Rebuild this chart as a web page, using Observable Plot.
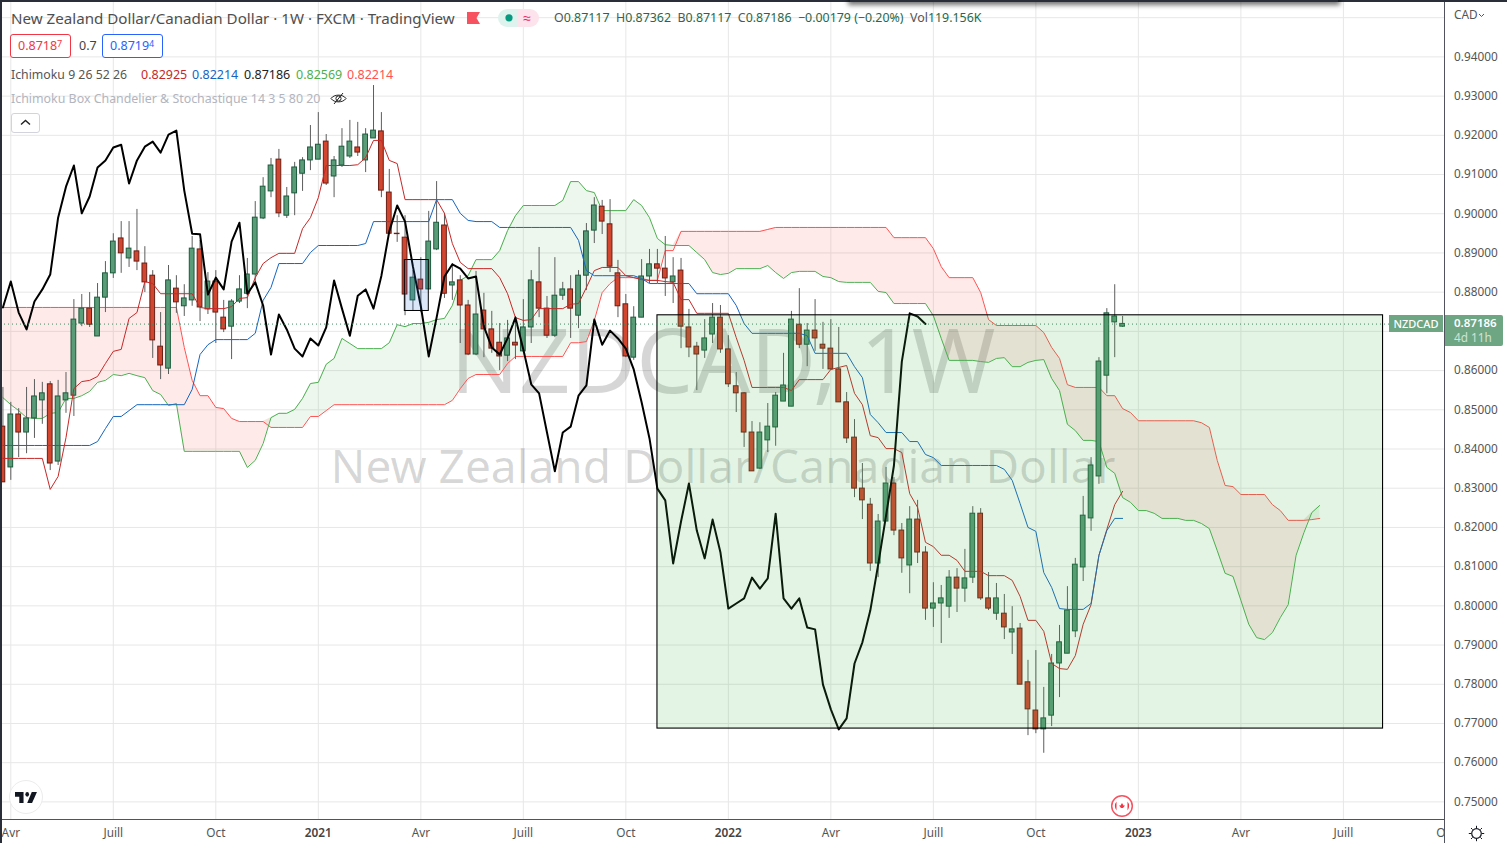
<!DOCTYPE html>
<html lang="fr">
<head>
<meta charset="utf-8">
<title>NZDCAD 1W</title>
<style>
html,body{margin:0;padding:0;width:1507px;height:843px;overflow:hidden;background:#fff;font-family:"Noto Sans",sans-serif}
#chart{position:absolute;left:0;top:0}
.t{position:absolute;white-space:nowrap;line-height:1}
.box{position:absolute;box-sizing:border-box;background:#fff;border-radius:3px}
sup{font-size:.72em;line-height:0;vertical-align:.35em}
</style>
<script src="https://cdn.jsdelivr.net/npm/d3@7"></script>
<script src="https://cdn.jsdelivr.net/npm/@observablehq/plot@0.6"></script>
</head>
<body>
<div id="chart"></div>
<div class="t" style="left:11px;top:11px;font-size:15.15px;color:#4f4f4f" id="title">New Zealand Dollar/Canadian Dollar · 1W · FXCM · TradingView</div>
<svg style="position:absolute;left:467px;top:12px" width="13" height="12"><path d="M0 0H13L9.5 6L13 12H0Z" fill="#f7525f"/></svg>
<svg style="position:absolute;left:498px;top:9px" width="41" height="18"><path d="M9 0H20V18H9A9 9 0 0 1 9 0Z" fill="#dff3ee"/><path d="M20 0H32A9 9 0 0 1 32 18H20Z" fill="#fce3ec"/><circle cx="11" cy="8.8" r="3.6" fill="#089981"/><text x="29" y="14" text-anchor="middle" font-size="14" fill="#e91e63">≈</text></svg>
<div class="t" style="left:554px;top:12px;font-size:12.4px;color:#555" id="ohlc">O<span>0.87117</span>&nbsp; H<span>0.87362</span>&nbsp; B<span>0.87117</span>&nbsp; C<span>0.87186</span>&nbsp; <span>−0.00179 (−0.20%)</span>&nbsp; Vol<span>119.156K</span></div>
<div class="box" style="left:10px;top:34px;width:61px;height:24px;border:1px solid #f23645"></div>
<div class="t" style="left:18px;top:40px;font-size:12.5px;color:#f23645">0.8718<sup>7</sup></div>
<div class="t" style="left:79px;top:40px;font-size:12.5px;color:#444">0.7</div>
<div class="box" style="left:102px;top:34px;width:61px;height:24px;border:1px solid #2962ff"></div>
<div class="t" style="left:110px;top:40px;font-size:12.5px;color:#2962ff">0.8719<sup>4</sup></div>
<div class="t" style="left:11px;top:69px;font-size:12.3px;color:#555">Ichimoku 9 26 52 26</div>
<div class="t" style="left:141px;top:69px;font-size:12.5px;color:#c62828">0.82925</div>
<div class="t" style="left:192px;top:69px;font-size:12.5px;color:#1565c0">0.82214</div>
<div class="t" style="left:244px;top:69px;font-size:12.5px;color:#222">0.87186</div>
<div class="t" style="left:296px;top:69px;font-size:12.5px;color:#4caf50">0.82569</div>
<div class="t" style="left:347px;top:69px;font-size:12.5px;color:#ff5252">0.82214</div>
<div class="t" style="left:11px;top:93px;font-size:12.4px;color:#b2b5be">Ichimoku Box Chandelier &amp; Stochastique 14 3 5 80 20</div>
<svg style="position:absolute;left:330px;top:90px" width="17" height="17"><path d="M1 8.5C4 4 13 4 16 8.5C13 13 4 13 1 8.5Z" fill="none" stroke="#222"/><circle cx="8.5" cy="8.5" r="2.6" fill="none" stroke="#222"/><path d="M13 3L4 14" stroke="#222"/></svg>
<div class="box" style="left:11px;top:113px;width:29px;height:20px;border:1px solid #d1d4dc"></div>
<svg style="position:absolute;left:20px;top:119px" width="11" height="7"><path d="M1 5.5L5.5 1.5L10 5.5" fill="none" stroke="#222" stroke-width="1.4"/></svg>
<svg style="position:absolute;left:8px;top:779px" width="36" height="36"><circle cx="18" cy="18" r="16.5" fill="#fff" stroke="#ececec"/><g transform="translate(7,8.3) scale(.61,.78)"><path d="M14 6H0v6h7v8h7V6z" fill="#131722"/><circle cx="20" cy="9" r="3" fill="#131722"/><path d="M28 20h-8l7.5-14H36L28 20z" fill="#131722"/></g></svg>
<svg style="position:absolute;left:1110px;top:794px" width="24" height="24"><circle cx="12" cy="12" r="10.3" fill="#fff" stroke="#f7525f" stroke-width="1.5"/><path d="M6.5 7.5A7 7 0 0 0 6.5 16.5ZM17.5 7.5A7 7 0 0 1 17.5 16.5Z" fill="#f23645"/><path d="M12 9L13.5 11.5L15 11.5L13 14H11L9 11.5L10.5 11.5Z" fill="#f23645"/></svg>
<div class="t" style="left:1389px;top:315px;width:54px;height:17px;background:#6ea583;color:#fff;font-size:11px;font-weight:500;text-align:center;line-height:17px">NZDCAD</div>
<div class="t" style="left:1445px;top:315px;width:58px;height:31px;background:#6ea583;border-radius:0 2px 2px 0"></div>
<div class="t" style="left:1454px;top:317px;font-size:11.5px;font-weight:600;color:#fff">0.87186</div>
<div class="t" style="left:1454px;top:332px;font-size:11.8px;color:#cfe3d6">4d 11h</div>
<div class="t" style="left:1454px;top:9px;font-size:11.8px;color:#555">CAD</div>
<svg style="position:absolute;left:1478px;top:13px" width="7" height="5"><path d="M1 1L3.5 3.5L6 1" fill="none" stroke="#555"/></svg>
<svg style="position:absolute;left:1468px;top:825px" width="17" height="17"><circle cx="8.5" cy="8.5" r="4.8" fill="none" stroke="#131722" stroke-width="1.2"/><path d="M8.5 .8V3M8.5 14V16.2M.8 8.5H3M14 8.5H16.2M3 3L4.6 4.6M12.4 12.4L14 14M14 3L12.4 4.6M4.6 12.4L3 14" stroke="#131722"/></svg>
<div style="position:absolute;left:0;top:0;width:1507px;height:2px;background:#2a2e39"></div>
<div style="position:absolute;left:0;top:0;width:1.5px;height:843px;background:#2a2e39"></div>
<div style="position:absolute;left:850px;top:-6px;width:488px;height:8px;background:#2a2e39;box-shadow:0 1px 5px 2px rgba(0,0,0,.55)"></div>
<script>
const weekStart = -1;
const priceTicks = [0.94,0.93,0.92,0.91,0.90,0.89,0.88,0.86,0.85,0.84,0.83,0.82,0.81,0.80,0.79,0.78,0.77,0.76,0.75];
const gridPrices = [0.95,0.94,0.93,0.92,0.91,0.90,0.89,0.88,0.87,0.86,0.85,0.84,0.83,0.82,0.81,0.80,0.79,0.78,0.77,0.76,0.75];
const monthWeeks = [0,13,26,52,65,78,104,117,130,156,169,182];
const monthLabels = ["Avr","Juill","Oct","Avr","Juill","Oct","Avr","Juill","Oct","Avr","Juill","Oct"];
const yearWeeks = [39,91,143];
const yearLabels = ["2021","2022","2023"];

const opens = [
.8457,.8353,.8488,.8442,.8478,.8524,.8565,.8368,.8524,.8536,
.8720,.8758,.8687,.8786,.8848,.8937,.8886,.8904,.8873,.8842,
.8661,.8605,.8809,.8764,.8779,.8909,.8756,.8827,.8735,.8712,
.8776,.8796,.8845,.8988,.9057,.9138,.8995,.9052,.9102,.9136,
.9138,.9184,.9095,.9123,.9146,.9169,.9136,.9192,.9210,.9054,
.8949,.8939,.8779,.8832,.8807,.8909,.8970,.8817,.8830,.8766,
.8641,.8753,.8705,.8671,.8638,.8671,.8649,.8710,.8825,.8758,
.8689,.8791,.8807,.8740,.8842,.8957,.9018,.8973,.8848,.8769,
.8633,.8735,.8840,.8871,.8860,.8825,.8855,.8710,.8661,.8651,
.8692,.8735,.8654,.8560,.8542,.8442,.8350,.8422,.8455,.8521,
.8508,.8717,.8666,.8702,.8666,.8656,.8603,.8519,.8429,.8299,
.8258,.8108,.8215,.8312,.8192,.8103,.8220,.8136,.7993,.8006,
.7998,.8072,.8044,.8072,.8235,.8019,.7980,.7980,.7932,.7942,
.7805,.7733,.7685,.7720,.7853,.7878,.7935,.8098,.8223,.8330,
.8587,.8723,.8712];
const highs = [
.8557,.8519,.8503,.8557,.8577,.8570,.8572,.8575,.8595,.8781,
.8794,.8799,.8822,.8878,.8949,.8980,.8980,.9011,.8916,.8855,
.8748,.8868,.8842,.8819,.8942,.8932,.8850,.8855,.8779,.8781,
.8842,.8886,.9031,.9092,.9141,.9164,.9067,.9131,.9143,.9225,
.9258,.9202,.9146,.9217,.9238,.9233,.9217,.9327,.9258,.9113,
.8995,.8995,.8855,.8888,.9006,.9082,.9001,.8873,.8842,.8779,
.8853,.8797,.8751,.8720,.8728,.8738,.8781,.8855,.8914,.8789,
.8888,.8825,.8842,.8855,.8975,.9041,.9034,.9036,.8881,.8794,
.8763,.8883,.8909,.8909,.8942,.8888,.8886,.8756,.8672,.8730,
.8771,.8766,.8689,.8595,.8544,.8470,.8467,.8516,.8544,.8644,
.8751,.8809,.8720,.8781,.8723,.8730,.8710,.8544,.8475,.8363,
.8274,.8233,.8353,.8327,.8210,.8253,.8269,.8151,.8059,.8052,
.8090,.8095,.8144,.8253,.8248,.8085,.8057,.8029,.7998,.7955,
.7861,.7886,.7792,.7876,.7950,.8049,.8121,.8279,.8378,.8633,
.8758,.8819,.8738];
const lows = [
.8315,.8320,.8378,.8388,.8427,.8463,.8345,.8358,.8491,.8483,
.8712,.8710,.8687,.8748,.8835,.8848,.8863,.8855,.8799,.8631,
.8577,.8590,.8746,.8738,.8764,.8725,.8743,.8669,.8697,.8628,
.8771,.8758,.8817,.8985,.9041,.8990,.8988,.8995,.9057,.9110,
.9138,.9072,.9041,.9118,.9141,.9146,.9105,.9192,.9041,.8949,
.8927,.8740,.8751,.8748,.8807,.8906,.8784,.8779,.8669,.8638,
.8638,.8633,.8644,.8600,.8623,.8628,.8646,.8669,.8735,.8682,
.8684,.8779,.8682,.8707,.8804,.8924,.8947,.8850,.8735,.8633,
.8626,.8735,.8822,.8822,.8789,.8771,.8656,.8633,.8549,.8631,
.8669,.8644,.8557,.8493,.8404,.8343,.8348,.8391,.8407,.8521,
.8508,.8656,.8610,.8649,.8603,.8600,.8519,.8414,.8276,.8220,
.8088,.8072,.8215,.8179,.8083,.8031,.8108,.7963,.7945,.7904,
.7968,.7983,.8009,.8057,.8014,.7988,.7963,.7914,.7876,.7799,
.7669,.7674,.7624,.7692,.7766,.7878,.7919,.8062,.8190,.8310,
.8541,.8633,.8710];
const closes = [
.8315,.8488,.8442,.8478,.8534,.8542,.8363,.8534,.8542,.8730,
.8758,.8717,.8786,.8848,.8929,.8899,.8911,.8878,.8825,.8677,
.8613,.8830,.8774,.8784,.8911,.8761,.8827,.8748,.8705,.8776,
.8807,.8845,.8990,.9069,.9123,.9001,.9044,.9118,.9136,.9169,
.9176,.9077,.9136,.9171,.9184,.9156,.9202,.9212,.9059,.8949,
.8948,.8794,.8837,.8807,.8929,.8977,.8796,.8825,.8766,.8641,
.8743,.8705,.8656,.8636,.8682,.8664,.8710,.8830,.8758,.8689,
.8791,.8807,.8758,.8842,.8955,.9021,.8980,.8865,.8764,.8636,
.8735,.8840,.8871,.8860,.8835,.8840,.8712,.8659,.8641,.8682,
.8735,.8654,.8565,.8542,.8442,.8343,.8442,.8457,.8536,.8562,
.8730,.8666,.8702,.8682,.8656,.8603,.8519,.8427,.8299,.8269,
.8108,.8215,.8312,.8192,.8121,.8220,.8136,.7993,.8006,.8019,
.8072,.8044,.8070,.8235,.8019,.7993,.8019,.7945,.7940,.7799,
.7736,.7685,.7713,.7853,.7907,.7988,.8105,.8230,.8358,.8623,
.8746,.8738,.8719];
const tenkan = [
.8376,.8376,.8376,.8376,.8376,.8376,.8297,.8330,.8429,.8554,
.8572,.8575,.8585,.8618,.8649,.8654,.8733,.8748,.8827,.8822,
.8796,.8796,.8796,.8796,.8796,.8761,.8758,.8758,.8758,.8763,
.8784,.8786,.8837,.8873,.8888,.8899,.8899,.8899,.8962,.8990,
.9041,.9123,.9123,.9123,.9123,.9125,.9143,.9187,.9187,.9136,
.9128,.9036,.9036,.9036,.9036,.9036,.9001,.8924,.8876,.8860,
.8860,.8860,.8860,.8837,.8796,.8735,.8728,.8730,.8758,.8758,
.8758,.8758,.8769,.8771,.8812,.8855,.8863,.8863,.8863,.8842,
.8837,.8832,.8830,.8830,.8827,.8825,.8781,.8781,.8746,.8746,
.8746,.8746,.8746,.8684,.8626,.8557,.8557,.8557,.8557,.8557,
.8549,.8577,.8577,.8577,.8577,.8603,.8608,.8613,.8542,.8513,
.8434,.8429,.8401,.8401,.8391,.8286,.8251,.8162,.8151,.8129,
.8129,.8116,.8088,.8088,.8088,.8077,.8077,.8077,.8065,.8024,
.7963,.7963,.7935,.7853,.7840,.7838,.7873,.7953,.8003,.8129,
.8195,.8258,.8292];
const kijun = [
.8409,.8409,.8409,.8409,.8409,.8409,.8409,.8409,.8409,.8409,
.8409,.8409,.8419,.8452,.8483,.8483,.8498,.8513,.8513,.8513,
.8513,.8513,.8513,.8513,.8552,.8641,.8666,.8679,.8679,.8679,
.8679,.8679,.8695,.8779,.8812,.8873,.8873,.8873,.8873,.8901,
.8919,.8919,.8919,.8919,.8919,.8919,.8924,.8980,.8980,.8980,
.8980,.8980,.8980,.8980,.8980,.9036,.9036,.9036,.9001,.8983,
.8980,.8980,.8980,.8965,.8965,.8965,.8965,.8965,.8965,.8965,
.8965,.8965,.8965,.8932,.8855,.8842,.8842,.8842,.8842,.8842,
.8842,.8835,.8822,.8822,.8822,.8822,.8822,.8822,.8796,.8796,
.8796,.8796,.8796,.8766,.8720,.8695,.8695,.8695,.8695,.8695,
.8695,.8695,.8689,.8644,.8644,.8644,.8644,.8644,.8610,.8582,
.8488,.8467,.8442,.8442,.8442,.8419,.8419,.8386,.8378,.8358,
.8358,.8358,.8358,.8358,.8358,.8358,.8358,.8348,.8320,.8261,
.8200,.8190,.8085,.8047,.7993,.7991,.7991,.7991,.8006,.8129,
.8192,.8223,.8223];
const spanA = [
.8531,.8513,.8498,.8480,.8478,.8478,.8491,.8493,.8529,.8529,
.8536,.8547,.8570,.8575,.8590,.8587,.8593,.8587,.8582,.8549,
.8539,.8511,.8516,.8394,.8394,.8394,.8394,.8394,.8394,.8394,
.8394,.8353,.8371,.8414,.8480,.8491,.8491,.8501,.8529,.8567,
.8570,.8616,.8631,.8682,.8669,.8656,.8656,.8656,.8656,.8671,
.8717,.8712,.8720,.8720,.8723,.8730,.8733,.8766,.8830,.8842,
.8883,.8883,.8883,.8906,.8957,.8995,.9021,.9021,.9021,.9021,
.9021,.9034,.9082,.9082,.9059,.9054,.9008,.9008,.9008,.9008,
.9036,.9021,.8990,.8937,.8921,.8919,.8919,.8919,.8901,.8883,
.8850,.8845,.8848,.8860,.8860,.8860,.8860,.8868,.8850,.8835,
.8850,.8853,.8853,.8853,.8840,.8837,.8827,.8825,.8825,.8825,
.8825,.8802,.8799,.8771,.8771,.8771,.8771,.8771,.8740,.8682,
.8626,.8626,.8626,.8626,.8623,.8621,.8631,.8633,.8610,.8610,
.8621,.8626,.8628,.8580,.8549,.8463,.8447,.8422,.8422,.8419,
.8353,.8338,.8276,.8264,.8243,.8243,.8236,.8223,.8223,.8223,
.8218,.8218,.8210,.8197,.8141,.8083,.8075,.8014,.7953,.7919,
.7914,.7932,.7970,.8003,.8129,.8187,.8238,.8256];
const spanB = [
.8761,.8761,.8761,.8761,.8761,.8761,.8761,.8761,.8761,.8761,
.8761,.8761,.8761,.8761,.8761,.8761,.8761,.8761,.8761,.8761,
.8761,.8761,.8761,.8659,.8575,.8536,.8536,.8506,.8503,.8478,
.8470,.8470,.8470,.8470,.8455,.8455,.8455,.8455,.8455,.8483,
.8483,.8498,.8513,.8513,.8513,.8513,.8513,.8513,.8513,.8513,
.8513,.8513,.8513,.8513,.8513,.8513,.8513,.8524,.8554,.8580,
.8590,.8590,.8590,.8590,.8618,.8636,.8636,.8636,.8636,.8636,
.8636,.8636,.8671,.8671,.8674,.8728,.8799,.8822,.8837,.8837,
.8837,.8835,.8830,.8830,.8906,.8906,.8955,.8955,.8955,.8955,
.8955,.8955,.8955,.8955,.8955,.8955,.8955,.8960,.8965,.8965,
.8965,.8965,.8965,.8965,.8965,.8965,.8965,.8965,.8965,.8965,
.8965,.8965,.8965,.8939,.8939,.8939,.8939,.8939,.8911,.8865,
.8837,.8837,.8837,.8837,.8799,.8730,.8715,.8715,.8715,.8715,
.8715,.8715,.8697,.8659,.8631,.8564,.8557,.8557,.8557,.8557,
.8536,.8536,.8503,.8493,.8472,.8472,.8472,.8472,.8472,.8472,
.8472,.8472,.8467,.8455,.8371,.8307,.8304,.8284,.8284,.8284,
.8284,.8258,.8243,.8218,.8218,.8218,.8220,.8223];
const lastPrice = 0.87186;
const boxWeeks = [82.01,174.03];
const boxPrices = [0.8741,0.7687];
const smallBoxWeeks = [49.97,53.01];
const smallBoxPrices = [0.8882,0.8752];
const watermark = ["NZDCAD, 1W","New Zealand Dollar/Canadian Dollar"];

const candles = opens.map((o,i)=>({week:i+weekStart,o,h:highs[i],l:lows[i],c:closes[i],up:closes[i]>=o}));
const cloud = spanA.map((a,i)=>({week:i+weekStart,a,b:spanB[i]}));
const lineTable = tenkan.map((t,i)=>({week:i+weekStart,t,k:kijun[i]}));
// The lagging span is the close plotted 25 weeks earlier.
const chikou = closes.map((c,i)=>({week:i+weekStart-25,c}));

const labelOf = new Map(monthWeeks.map((w,i)=>[w,monthLabels[i]]));
const yearOf = new Map(yearWeeks.map((w,i)=>[w,yearLabels[i]]));
const font = '"Noto Sans",sans-serif';

const panel = (index,scales,values,dim) => {
  const g = d3.create("svg:g");
  const right = dim.width-dim.marginRight, bottom = dim.height-dim.marginBottom;
  g.append("rect").attr("x",right).attr("y",0).attr("width",dim.marginRight).attr("height",dim.height).attr("fill","#fff");
  g.append("line").attr("x1",right-.5).attr("x2",right-.5).attr("y1",0).attr("y2",dim.height).attr("stroke","#50535e");
  g.append("line").attr("x1",0).attr("x2",right).attr("y1",bottom-.5).attr("y2",bottom-.5).attr("stroke","#50535e");
  return g.node();
};

const plot = Plot.plot({
  width:1507,height:843,
  marginLeft:0,marginRight:62,marginTop:0,marginBottom:23,
  style:{background:"#fff",fontFamily:font,overflow:"hidden"},
  x:{type:"linear",domain:[0,182],range:[10.3,1445.4]},
  y:{type:"linear",domain:[0.94,0.75],range:[56.4,801.4]},
  marks:[
    Plot.ruleY(gridPrices,{stroke:"#e7e7e7",strokeWidth:1}),
    Plot.ruleX([...monthWeeks,...yearWeeks],{stroke:"#e7e7e7",strokeWidth:1}),
    Plot.text([watermark[0]],{frameAnchor:"middle",dy:-46,fontSize:90,fill:"#000",fillOpacity:.16,fontFamily:font}),
    Plot.text([watermark[1]],{frameAnchor:"middle",dy:58,fontSize:46,fill:"#000",fillOpacity:.16,fontFamily:font}),
    Plot.areaY(cloud,{x:"week",y1:"b",y2:d=>Math.max(d.a,d.b),fill:"#4caf50",fillOpacity:.1}),
    Plot.areaY(cloud,{x:"week",y1:"a",y2:d=>Math.max(d.a,d.b),fill:"#ff5252",fillOpacity:.12}),
    Plot.line(cloud,{x:"week",y:"a",stroke:"#4caf50",strokeWidth:1}),
    Plot.line(cloud,{x:"week",y:"b",stroke:"#ff5252",strokeWidth:1}),
    Plot.ruleX(candles,{x:"week",y1:"l",y2:"h",stroke:"#5d5d5d",strokeWidth:1}),
    Plot.rect(candles,{x1:d=>d.week-.3,x2:d=>d.week+.3,y1:d=>Math.min(d.o,d.c),y2:d=>Math.max(d.o,d.c),
      fill:d=>d.up?"#5a9b78":"#d2452f",stroke:d=>d.up?"#1c5a3c":"#6a1e14",strokeWidth:1}),
    Plot.line(lineTable,{x:"week",y:"t",stroke:"#c62828",strokeWidth:1}),
    Plot.line(lineTable,{x:"week",y:"k",stroke:"#1565c0",strokeWidth:1}),
    Plot.line(chikou.filter(d=>d.week>=weekStart),{x:"week",y:"c",stroke:"#000",strokeWidth:2}),
    Plot.rect([0],{x1:()=>smallBoxWeeks[0],x2:()=>smallBoxWeeks[1],y1:()=>smallBoxPrices[1],y2:()=>smallBoxPrices[0],fill:"#2168dc",fillOpacity:.16,stroke:"#000",strokeOpacity:1,strokeWidth:1}),
    Plot.rect([0],{x1:()=>boxWeeks[0],x2:()=>boxWeeks[1],y1:()=>boxPrices[1],y2:()=>boxPrices[0],fill:"#43b84a",fillOpacity:.15,stroke:"#000",strokeWidth:1.1}),
    Plot.ruleY([lastPrice],{stroke:"#3f8a63",strokeWidth:1,strokeDasharray:"1,3"}),
    Plot.axisX(monthWeeks,{tickSize:0,tickPadding:8,fontSize:11.8,fill:"#555",tickFormat:d=>labelOf.get(d),label:null}),
    Plot.axisX(yearWeeks,{tickSize:0,tickPadding:8,fontSize:11.8,fontWeight:600,fill:"#444",tickFormat:d=>yearOf.get(d),label:null}),
    panel,
    Plot.axisY(priceTicks,{anchor:"right",tickSize:0,tickPadding:8.5,fontSize:11.8,fill:"#555",tickFormat:d3.format(".5f"),label:null})
  ]
});
document.getElementById("chart").append(plot);
document.querySelectorAll("#ohlc span").forEach(s=>s.style.color="#1f6a4e");
</script>
</body>
</html>
